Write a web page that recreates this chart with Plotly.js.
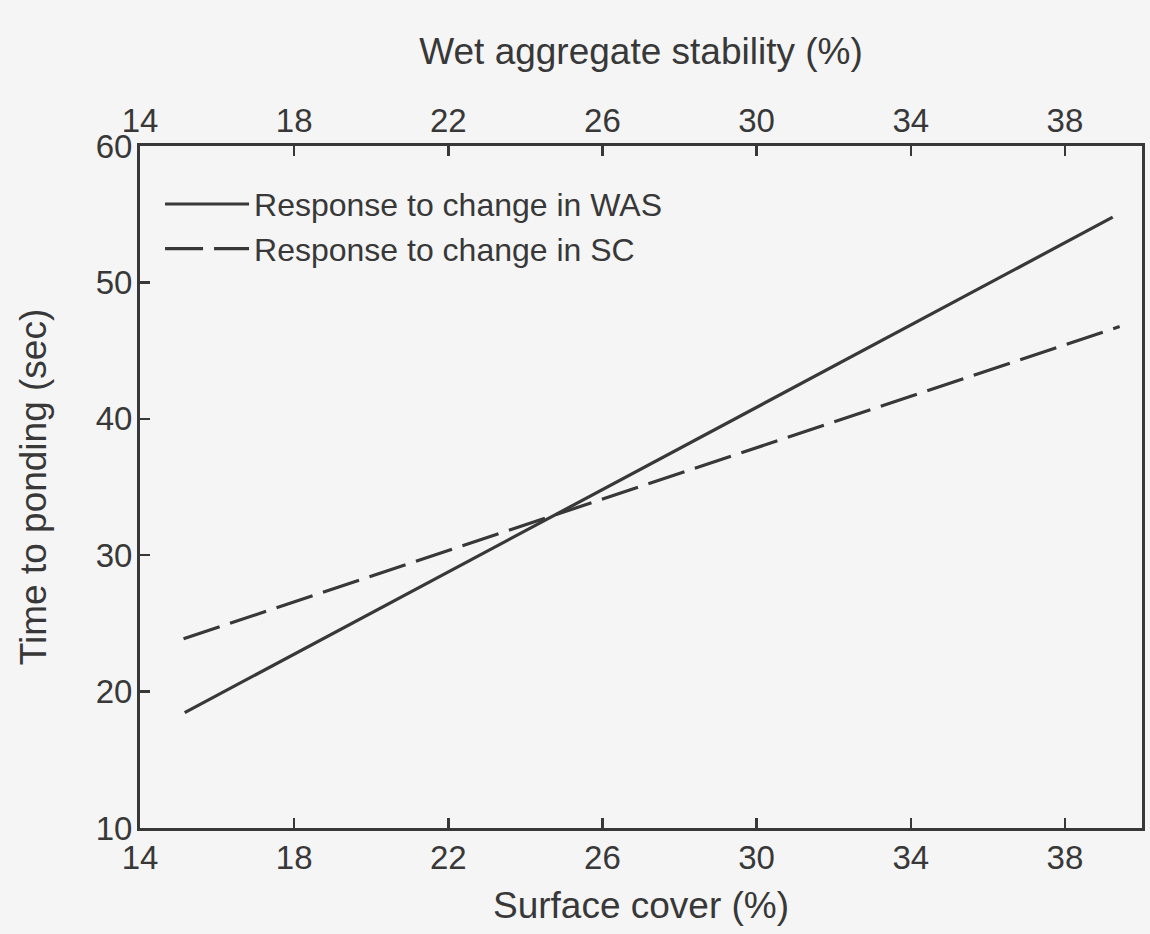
<!DOCTYPE html>
<html>
<head>
<meta charset="utf-8">
<script src="https://cdn.plot.ly/plotly-3.0.1.min.js"></script>
<style>
  html, body { margin: 0; padding: 0; background: #f5f5f5; }
  #chart { width: 1150px; height: 934px; }
</style>
</head>
<body>
<div id="chart"></div>
<script>
// Data
const wasX = [15.16, 39.24];          // wet aggregate stability (%) – top axis
const wasY = [18.46, 54.78];          // time to ponding (sec)
const scX = [15.13, 39.42];           // surface cover (%) – bottom axis
const scY = [23.87, 46.76];           // time to ponding (sec)
const xTicks = [14, 18, 22, 26, 30, 34, 38];
const yTicks = [10, 20, 30, 40, 50, 60];
const seriesNames = ["Response to change in WAS", "Response to change in SC"];

const ink = "#383838";
const fontFam = "Liberation Sans, Arial, Helvetica, sans-serif";
const tickSize = 33, titleSize = 37, legendSize = 32;

const traces = [
  {
    x: wasX, y: wasY, xaxis: "x2", yaxis: "y",
    type: "scatter", mode: "lines", name: seriesNames[0],
    line: { color: ink, width: 3.2 }
  },
  {
    x: scX, y: scY, xaxis: "x", yaxis: "y",
    type: "scatter", mode: "lines", name: seriesNames[1],
    line: { color: ink, width: 3.2, dash: "38px,11px" }
  }
];

const axisCommon = {
  range: [14, 40],
  tickmode: "array",
  tickvals: xTicks,
  ticktext: xTicks.map(String),
  ticks: "inside",
  ticklen: 10,
  tickwidth: 2.5,
  tickcolor: ink,
  showline: true,
  linecolor: ink,
  linewidth: 3,
  showgrid: false,
  zeroline: false,
  tickfont: { family: fontFam, size: tickSize, color: ink },
  automargin: false,
  fixedrange: true
};

const layout = {
  width: 1150,
  height: 934,
  paper_bgcolor: "#f5f5f5",
  plot_bgcolor: "#f5f5f5",
  margin: { l: 140, r: 8, t: 146, b: 106 },
  font: { family: fontFam, color: ink },
  showlegend: true,
  legend: {
    x: 0.02, y: 0.955, xanchor: "left", yanchor: "top",
    bgcolor: "rgba(0,0,0,0)",
    font: { family: fontFam, size: legendSize, color: ink },
    itemwidth: 84,
    tracegroupgap: 0
  },
  xaxis: Object.assign({}, axisCommon, {
    side: "bottom",
    ticklabelstandoff: -2,
    title: { text: "Surface cover (%)", font: { family: fontFam, size: titleSize, color: ink }, standoff: 18 }
  }),
  xaxis2: Object.assign({}, axisCommon, {
    side: "top",
    overlaying: "x",
    anchor: "y",
    ticklabelstandoff: -2,
    title: { text: "Wet aggregate stability (%)", font: { family: fontFam, size: titleSize, color: ink }, standoff: 26 }
  }),
  yaxis: {
    range: [10, 60],
    tickmode: "array",
    tickvals: yTicks,
    ticktext: yTicks.map(String),
    ticks: "inside",
    ticklen: 10,
    tickwidth: 2.5,
    tickcolor: ink,
    showline: true,
    mirror: true,
    linecolor: ink,
    linewidth: 3,
    showgrid: false,
    zeroline: false,
    tickfont: { family: fontFam, size: tickSize, color: ink },
    ticklabelstandoff: -2,
    automargin: false,
    fixedrange: true,
    title: { text: "Time to ponding (sec)", font: { family: fontFam, size: titleSize, color: ink }, standoff: 38 }
  }
};

Plotly.newPlot("chart", traces, layout, { displayModeBar: false, staticPlot: true });
</script>
</body>
</html>
